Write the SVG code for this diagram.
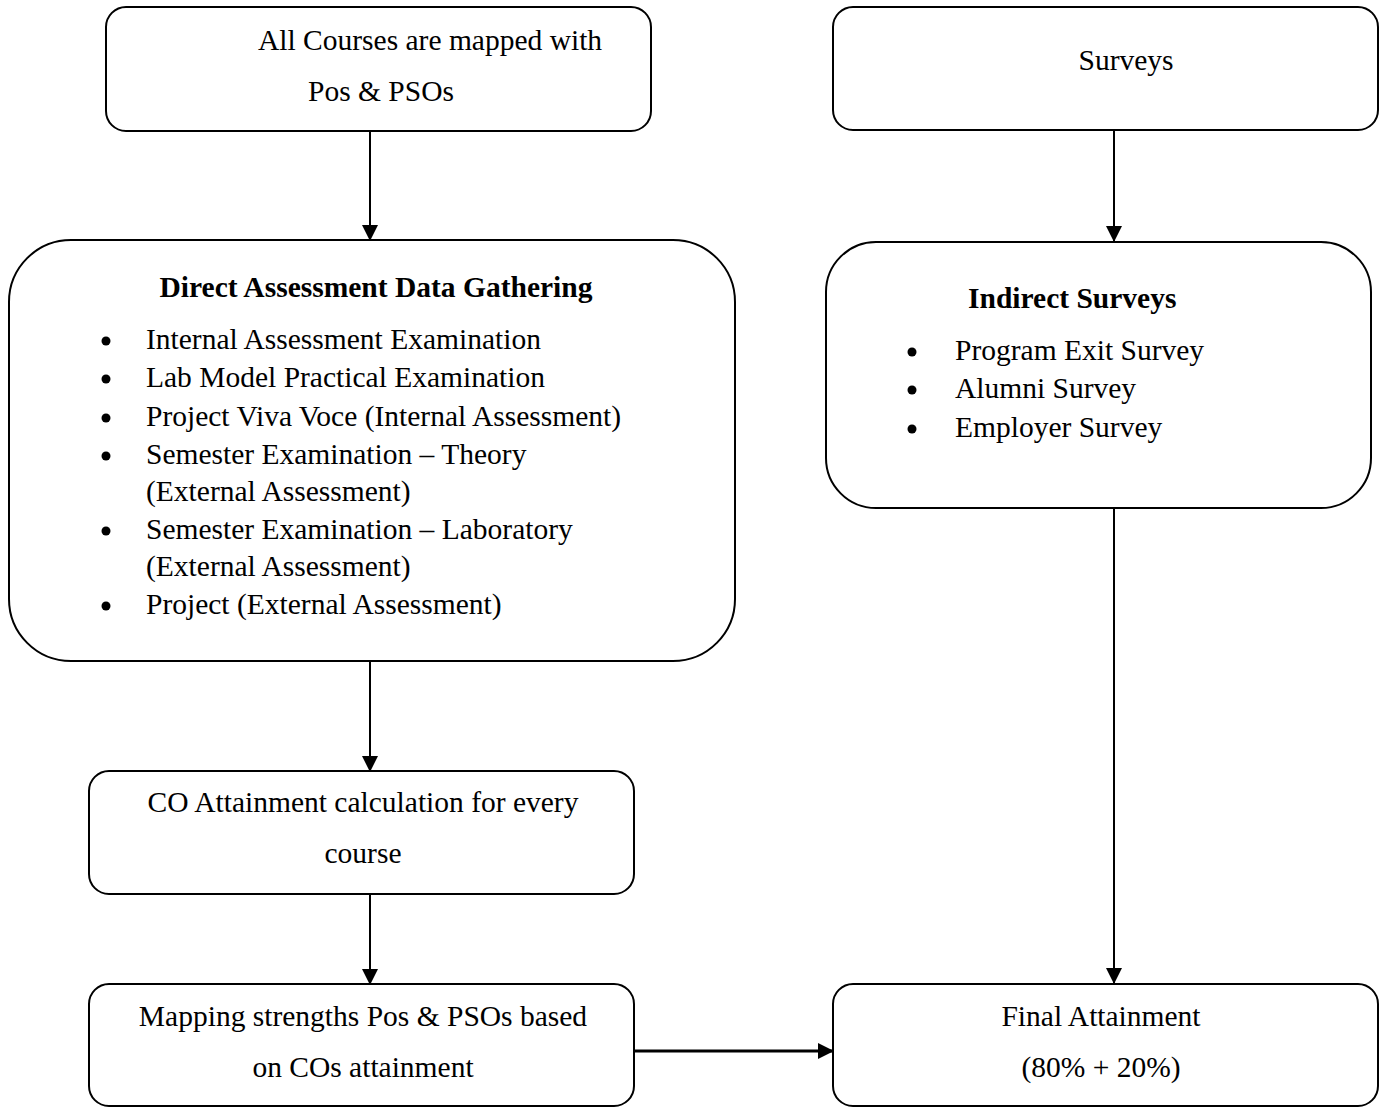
<svg xmlns="http://www.w3.org/2000/svg" width="1382" height="1107" viewBox="0 0 1382 1107">
<style>
.box{fill:#fff;stroke:#000;stroke-width:2}
.t{font-family:"Liberation Serif","Times New Roman",serif;font-size:29.5px;fill:#000}
.b{font-weight:bold}
.c{text-anchor:middle}
.con{stroke:#000;stroke-width:2;fill:none}
.thick{stroke-width:3}
</style>
<defs>
<marker id="ah2" markerWidth="16" markerHeight="16" refX="15" refY="8" orient="auto" markerUnits="userSpaceOnUse" viewBox="0 0 16 16">
<path d="M0,0 L16,8 L0,16 Z" fill="#000"/>
</marker>
</defs>
<g id="connectors">
<line class="con" x1="370" y1="131" x2="370" y2="240" marker-end="url(#ah2)"/>
<line class="con" x1="1114" y1="130" x2="1114" y2="241" marker-end="url(#ah2)"/>
<line class="con" x1="370" y1="661" x2="370" y2="771" marker-end="url(#ah2)"/>
<line class="con" x1="370" y1="894" x2="370" y2="984" marker-end="url(#ah2)"/>
<line class="con" x1="1114" y1="508" x2="1114" y2="983" marker-end="url(#ah2)"/>
<line class="con thick" x1="634" y1="1051" x2="833" y2="1051" marker-end="url(#ah2)"/>
</g>
<g id="courses">
<rect class="box" x="106" y="7" width="545" height="124" rx="20"/>
<text class="t" x="258" y="50">All Courses are mapped with</text>
<text class="t" x="308" y="101">Pos &amp; PSOs</text>
</g>
<g id="surveys">
<rect class="box" x="833" y="7" width="545" height="123" rx="20"/>
<text class="t c" x="1126" y="70">Surveys</text>
</g>
<g id="direct">
<rect class="box" x="9" y="240" width="726" height="421" rx="62"/>
<text class="t b c" x="376" y="297">Direct Assessment Data Gathering</text>
<g class="t">
<circle cx="106" cy="341" r="4.5"/><text x="146" y="349">Internal Assessment Examination</text>
<circle cx="106" cy="379" r="4.5"/><text x="146" y="387">Lab Model Practical Examination</text>
<circle cx="106" cy="418" r="4.5"/><text x="146" y="426">Project Viva Voce (Internal Assessment)</text>
<circle cx="106" cy="456" r="4.5"/><text x="146" y="464">Semester Examination – Theory</text>
<text x="146" y="501">(External Assessment)</text>
<circle cx="106" cy="531" r="4.5"/><text x="146" y="539">Semester Examination – Laboratory</text>
<text x="146" y="576">(External Assessment)</text>
<circle cx="106" cy="606" r="4.5"/><text x="146" y="614">Project (External Assessment)</text>
</g>
</g>
<g id="indirect">
<rect class="box" x="826" y="242" width="545" height="266" rx="50"/>
<text class="t b" x="968" y="308">Indirect Surveys</text>
<g class="t">
<circle cx="912" cy="352" r="4.5"/><text x="955" y="360">Program Exit Survey</text>
<circle cx="912" cy="390" r="4.5"/><text x="955" y="398">Alumni Survey</text>
<circle cx="912" cy="429" r="4.5"/><text x="955" y="437">Employer Survey</text>
</g>
</g>
<g id="co">
<rect class="box" x="89" y="771" width="545" height="123" rx="20"/>
<text class="t c" x="363" y="812">CO Attainment calculation for every</text>
<text class="t c" x="363" y="863">course</text>
</g>
<g id="mapping">
<rect class="box" x="89" y="984" width="545" height="122" rx="20"/>
<text class="t c" x="363" y="1026">Mapping strengths Pos &amp; PSOs based</text>
<text class="t c" x="363" y="1077">on COs attainment</text>
</g>
<g id="final">
<rect class="box" x="833" y="984" width="545" height="122" rx="20"/>
<text class="t c" x="1101" y="1026">Final Attainment</text>
<text class="t c" x="1101" y="1077">(80% + 20%)</text>
</g>
</svg>
